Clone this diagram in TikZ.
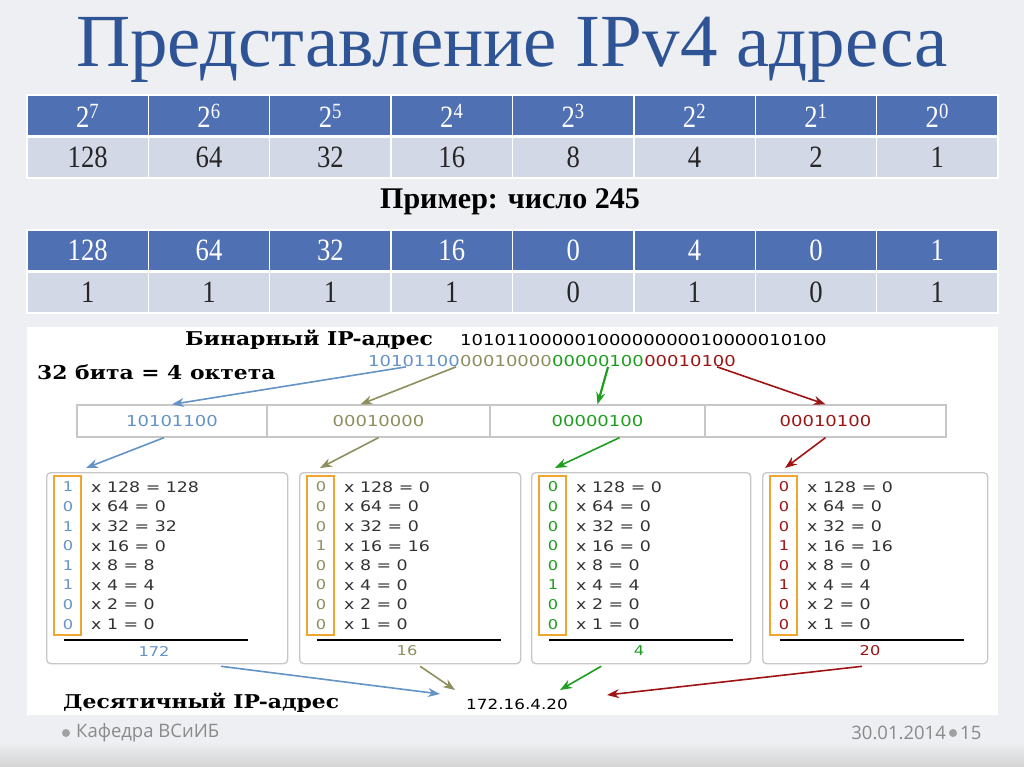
\documentclass[tikz,border=0pt]{standalone}
\usepackage{fontspec}
\setmainfont{Liberation Serif}
\newfontfamily\tabfont[FakeStretch=0.86]{Liberation Serif}
\newfontfamily\headfont[FakeStretch=1.15]{DejaVu Serif}
\newfontfamily\bitfont[FakeStretch=1.2]{DejaVu Sans}
\newfontfamily\footfont{Open Sans}
\usetikzlibrary{arrows.meta, calc, positioning}
\definecolor{titleblue}{HTML}{2E5496}
\definecolor{headblue}{HTML}{5070B4}
\definecolor{bodygray}{HTML}{D3D8E6}
\definecolor{bggray}{HTML}{EEEFF2}
\definecolor{octblue}{HTML}{6493C6}
\definecolor{octolive}{HTML}{8E8E5E}
\definecolor{octgreen}{HTML}{1E9E1E}
\definecolor{octred}{HTML}{9E1414}
\definecolor{bitorange}{HTML}{F0A530}
\definecolor{footgray}{HTML}{8A8A8A}

\begin{document}
\begin{tikzpicture}[x=1pt, y=-1pt,
  hcell/.style   = {draw=white, line width=1.5pt, fill=headblue, minimum width=121.4pt, minimum height=41pt, inner sep=0pt, font=\tabfont\fontsize{31}{31}\selectfont, text=white},
  bcell/.style   = {hcell, fill=bodygray, text=black!85},
  octcell/.style = {draw=black!22, line width=1.3pt, fill=white, minimum height=32pt, inner sep=0pt, font=\bitfont\fontsize{15}{15}\selectfont},
  calcbox/.style = {draw=black!22, line width=1.3pt, fill=white, rounded corners=4pt, anchor=north west, inner sep=0pt},
  bitframe/.style= {draw=bitorange, line width=2.4pt, minimum width=27pt, minimum height=159pt, inner sep=0pt},
  bitnum/.style  = {font=\bitfont\fontsize{13.5}{13.5}\selectfont, inner sep=0pt},
  rowtxt/.style  = {font=\bitfont\fontsize{14.5}{14.5}\selectfont, text=black!80, anchor=west, inner sep=0pt},
  binfont/.style = {font=\bitfont\fontsize{15}{15}\selectfont, anchor=west, inner sep=0pt},
  lblfont/.style = {font=\headfont\bfseries\fontsize{19}{19}\selectfont, anchor=west, inner sep=0pt},
  arr/.style     = {-{Stealth[length=12pt,width=9pt]}, line width=1.6pt},
  footfnt/.style = {font=\footfont\fontsize{18.5}{18.5}\selectfont, text=footgray, inner sep=0pt},
]
\useasboundingbox (0,0) rectangle (1024,767);
%%--- Slide background ---
\fill[bggray] (0,0) rectangle (1024,767);
\shade[top color=bggray, bottom color=black!17] (0,742) rectangle (1024,767);
%%--- Title ---
\node[font=\fontsize{75}{75}\selectfont, text=titleblue] (title) at (512,50) {Представление IPv4 адреса};
%%--- Table of powers ---
\foreach \e [count=\i] in {7,6,...,0} {
  \pgfmathtruncatemacro\v{2^\e}
  \node[hcell] (pa\i) at ({27+(\i-0.5)*121.375}, 115.5) {2\textsuperscript{\e}};
  \node[bcell] (pb\i) at ({27+(\i-0.5)*121.375}, 157.5) {\v};
}
%%--- Example 245 ---
\node[font=\bfseries\fontsize{30}{30}\selectfont] (exmpl) at (510,202) {Пример: число 245};
\foreach \w/\b [count=\i] in {128/1,64/1,32/1,16/1,0/0,4/1,0/0,1/1} {
  \node[hcell] (qa\i) at ({27+(\i-0.5)*121.375}, 250.5) {\w};
  \node[bcell] (qb\i) at ({27+(\i-0.5)*121.375}, 292.5) {\b};
}
%%--- Lower panel: binary to decimal ---
\fill[white] (27,327) rectangle (998,715);
\node[lblfont] (binlbl) at (185,340) {Бинарный IP-адрес};
\node[lblfont] (octlbl) at (37,372) {32 бита = 4 октета};
\node[binfont] (binall) at (460,340) {10101100000100000000010000010100};
\node[binfont, text=octblue]  (seg1) at (368,361) {10101100};
\node[binfont, text=octolive, right=0pt of seg1] (seg2) {00010000};
\node[binfont, text=octgreen, right=0pt of seg2] (seg3) {00000100};
\node[binfont, text=octred,   right=0pt of seg3] (seg4) {00010100};
%% octet cells
\foreach \k/\xa/\xb/\txt/\col in {1/77/267/10101100/octblue, 2/267/490/00010000/octolive, 3/490/705/00000100/octgreen, 4/705/946/00010100/octred} {
  \pgfmathsetmacro\ow{\xb-\xa}
  \node[octcell, minimum width=\ow pt, text=\col] (oct\k) at ({(\xa+\xb)/2},421) {\txt};
}
\draw[arr, octblue]  ([xshift=-8pt]seg1.south) -- (oct1.north);
\draw[arr, octolive] ([xshift=-4pt]seg2.south west) -- ([xshift=-18pt]oct2.north);
\draw[arr, octgreen, line width=2.2pt] ([xshift=10pt]seg3.south) -- (oct3.north);
\draw[arr, octred]   ([xshift=27pt]seg4.south) -- (oct4.north);
%% calculation boxes
\foreach \k/\xl/\bw/\bits/\col/\sm in {1/46/241/{1,0,1,0,1,1,0,0}/octblue/172, 2/299/221/{0,0,0,1,0,0,0,0}/octolive/16, 3/531/219/{0,0,0,0,0,1,0,0}/octgreen/4, 4/762/225/{0,0,0,1,0,1,0,0}/octred/20} {
  \node[calcbox, minimum width=\bw pt, minimum height=191pt] (calc\k) at (\xl,472) {};
  \node[bitframe] (frame\k) at ({\xl+21.5},555.5) {};
  \foreach \b [count=\r] in \bits {
    \pgfmathtruncatemacro\pv{2^(8-\r)}
    \pgfmathtruncatemacro\pr{\b*\pv}
    \node[bitnum, text=\col] (bit\k-\r) at ({\xl+22},{487+(\r-1)*19.6}) {\b};
    \node[rowtxt] (row\k-\r) at ({\xl+45},{487+(\r-1)*19.6}) {x \pv\ = \pr};
  }
  \draw[line width=2pt] ({\xl+18},640) -- ({\xl+202},640);
  \node[bitnum, text=\col] (sum\k) at ({\xl+108},651) {\sm};
}
\draw[arr, octblue]  ([xshift=-8pt]oct1.south) -- ([xshift=40pt,yshift=4pt]calc1.north west);
\draw[arr, octolive] (oct2.south) -- ([xshift=21pt,yshift=4pt]calc2.north west);
\draw[arr, octgreen] ([xshift=22pt]oct3.south) -- ([xshift=24pt,yshift=4pt]calc3.north west);
\draw[arr, octred]   (oct4.south) -- ([xshift=23pt,yshift=4pt]calc4.north west);
%% decimal result
\node[lblfont] (declbl) at (63,703) {Десятичный IP-адрес};
\node[binfont, anchor=center, font=\bitfont\fontsize{14}{14}\selectfont] (dec) at (517,704) {172.16.4.20};
\draw[arr, octblue]  ([xshift=54pt,yshift=-2pt]calc1.south) -- ([xshift=-77pt,yshift=10pt]dec.center);
\draw[arr, octolive] ([xshift=10pt,yshift=-2pt]calc2.south) -- ([xshift=-62pt,yshift=14pt]dec.center);
\draw[arr, octgreen] ([xshift=-40pt,yshift=-2pt]calc3.south) -- ([xshift=43pt,yshift=14pt]dec.center);
\draw[arr, octred]   ([xshift=-13pt,yshift=-2pt]calc4.south) -- ([xshift=90pt,yshift=9pt]dec.center);
%%--- Footer ---
\node[circle, fill=footgray!80, minimum size=8pt, inner sep=0pt] (fdot1) at (66,733) {};
\node[footfnt, anchor=west] (fdept) at (76,733) {Кафедра ВСиИБ};
\node[circle, fill=footgray!80, minimum size=8pt, inner sep=0pt] (fdot2) at (953,733) {};
\node[footfnt, anchor=east] (fdate) at (946,733) {30.01.2014};
\node[footfnt, anchor=west] (fpage) at (960,733) {15};
\end{tikzpicture}
\end{document}
